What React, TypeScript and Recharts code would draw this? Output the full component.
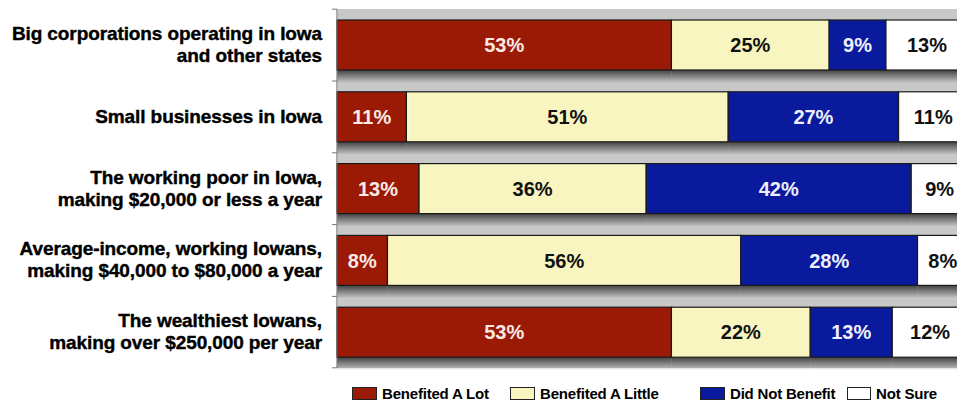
import { BarChart, Bar, XAxis, YAxis, CartesianGrid, Legend, LabelList } from 'recharts';

const categories = [
  'Big corporations operating in Iowa\nand other states',
  'Small businesses in Iowa',
  'The working poor in Iowa,\nmaking $20,000 or less a year',
  'Average-income, working Iowans,\nmaking $40,000 to $80,000 a year',
  'The wealthiest Iowans,\nmaking over $250,000 per year',
];

const benefitedALot = [53, 11, 13, 8, 53];
const benefitedALittle = [25, 51, 36, 56, 22];
const didNotBenefit = [9, 27, 42, 28, 13];
const notSure = [13, 11, 9, 8, 12];

const seriesNames = ['Benefited A Lot', 'Benefited A Little', 'Did Not Benefit', 'Not Sure'];
const seriesKeys = ['lot', 'little', 'none', 'unsure'];
const seriesColors = ['#9a1a06', '#f8f5c0', '#0a1a9c', '#ffffff'];
const labelColors = ['#fbe9e6', '#111111', '#eef0ff', '#111111'];
const xTicks = [0, 10, 20, 30, 40, 50, 60, 70, 80, 90, 100];

// legend slot widths, to match the spacing in the original
const legendWidths = [158, 190, 147, 90];

const data = categories.map((name, i) => ({
  name,
  lot: benefitedALot[i],
  little: benefitedALittle[i],
  none: didNotBenefit[i],
  unsure: notSure[i],
}));

const labelFont = '"Liberation Sans Narrow", "Arial Narrow", "Liberation Sans", Arial, sans-serif';
const textFont = '"Liberation Sans", Arial, sans-serif';

function ShadowBar(props: any) {
  const { x, y, width, height, fill } = props;
  if (width == null || width <= 0) return null;
  return (
    <g>
      <rect x={x} y={y + height} width={width} height={13} fill="url(#barShadow)" />
      <rect x={x} y={y} width={width} height={height} fill={fill} stroke="#1a1a1a" strokeWidth={1.2} />
    </g>
  );
}

function CategoryTick(props: any) {
  const { x, y, payload, index } = props;
  const lines = String(payload.value).split('\n');
  const lineH = 22;
  const first = y - ((lines.length - 1) * lineH) / 2 + 6;
  const half = 35.7;
  return (
    <g>
      <line x1={x - 5} x2={x} y1={y - half} y2={y - half} stroke="#777" />
      {index === categories.length - 1 && (
        <line x1={x - 5} x2={x} y1={y + half} y2={y + half} stroke="#777" />
      )}
      <text
        textAnchor="end"
        fontFamily={textFont}
        fontWeight="bold"
        fontSize={19}
        letterSpacing={-0.1}
        fill="#000"
        stroke="#000"
        strokeWidth={0.4}
      >
        {lines.map((l, i) => (
          <tspan key={i} x={x - 15} y={first + i * lineH}>
            {l}
          </tspan>
        ))}
      </text>
    </g>
  );
}

function LegendContent() {
  return (
    <div style={{ display: 'flex', alignItems: 'center', fontFamily: textFont, fontWeight: 'bold', fontSize: 15, letterSpacing: -0.2, color: '#000', whiteSpace: 'nowrap' }}>
      {seriesNames.map((n, i) => (
        <span key={n} style={{ display: 'flex', alignItems: 'center', width: legendWidths[i] }}>
          <span
            style={{
              display: 'inline-block',
              width: 23,
              height: 11,
              background: seriesColors[i],
              border: '1px solid #222',
              marginRight: 5,
            }}
          />
          {n}
        </span>
      ))}
    </div>
  );
}

export default function App() {
  return (
    <div style={{ position: 'absolute', left: 0, top: 0, width: 957, height: 403, overflow: 'hidden', background: '#fff' }}>
      <svg width={0} height={0} style={{ position: 'absolute' }}>
        <defs>
          <linearGradient id="barShadow" x1="0" y1="0" x2="0" y2="1">
            <stop offset="0%" stopColor="#2a2a2a" stopOpacity={0.85} />
            <stop offset="100%" stopColor="#2a2a2a" stopOpacity={0} />
          </linearGradient>
        </defs>
      </svg>
      <BarChart
        width={990}
        height={403}
        data={data}
        layout="vertical"
        margin={{ top: 9, right: 22, left: 0, bottom: 17 }}
      >
        <CartesianGrid horizontal={false} fill="#c8c8c8" stroke="#e4e4e4" strokeWidth={2} />
        <XAxis type="number" domain={[0, 100]} ticks={xTicks} tick={false} tickLine={false} axisLine={{ stroke: '#555' }} height={0} />
        <YAxis
          type="category"
          dataKey="name"
          width={337}
          interval={0}
          tickSize={0}
          tickMargin={0}
          tickLine={false}
          axisLine={{ stroke: '#777' }}
          tick={<CategoryTick />}
        />
        <Legend
          content={<LegendContent />}
          wrapperStyle={{ position: 'absolute', left: 352, top: 385, width: 'auto', height: 18 }}
        />
        {seriesKeys.map((k, i) => (
          <Bar
            key={k}
            dataKey={k}
            name={seriesNames[i]}
            stackId="a"
            fill={seriesColors[i]}
            barSize={50}
            shape={<ShadowBar />}
            isAnimationActive={false}
          >
            <LabelList
              dataKey={k}
              position="center"
              formatter={(v: any) => `${v}%`}
              fill={labelColors[i]}
              fontFamily={labelFont}
              fontWeight="bold"
              fontSize={20}
            />
          </Bar>
        ))}
      </BarChart>
    </div>
  );
}
